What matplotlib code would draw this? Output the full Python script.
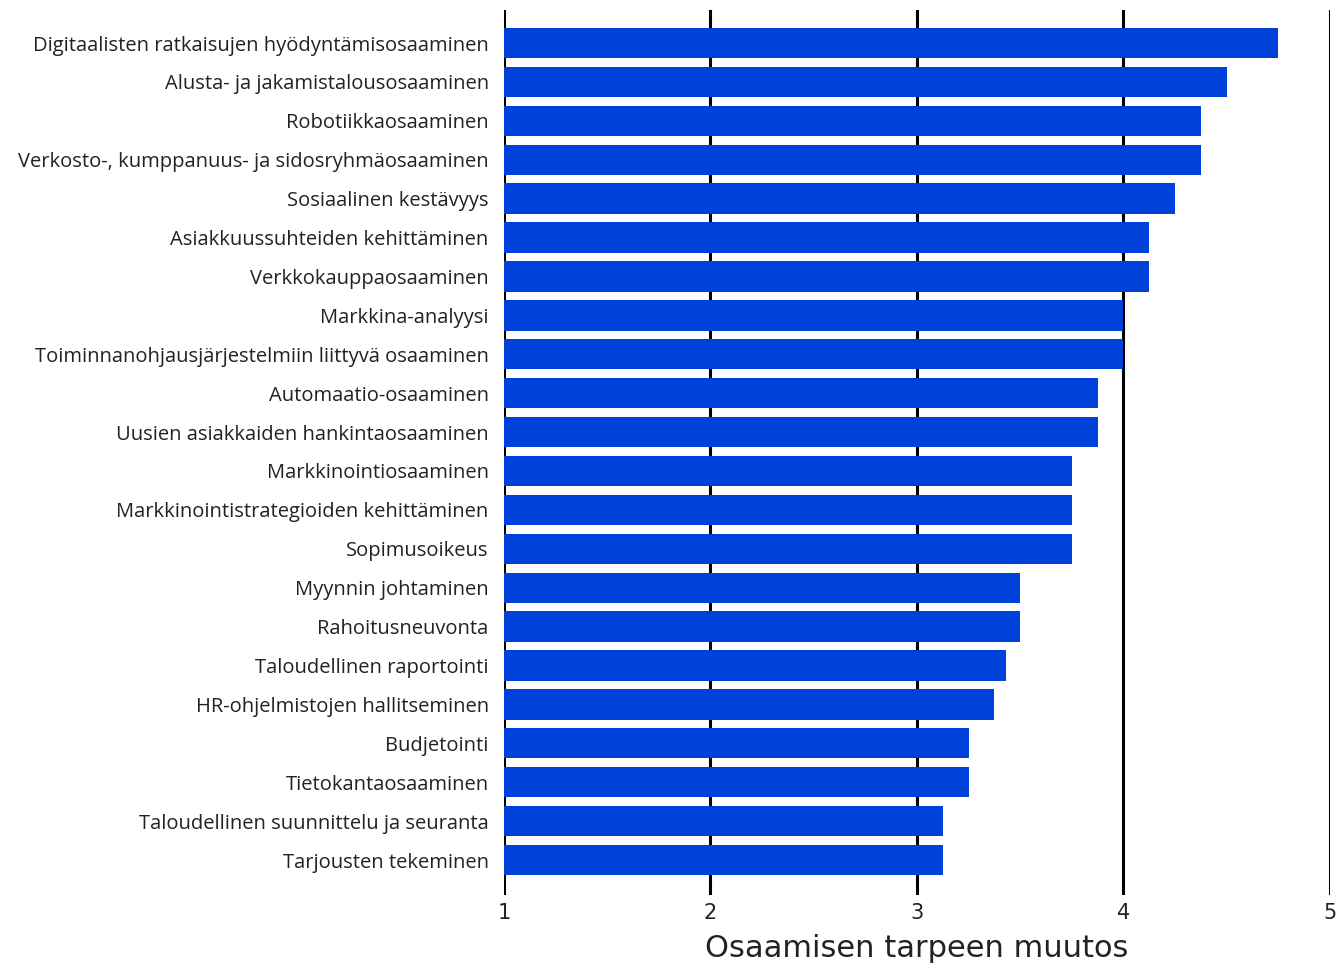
import numpy as np
import matplotlib.pyplot as plt

labels = [
    "Digitaalisten ratkaisujen hyödyntämisosaaminen",
    "Alusta- ja jakamistalousosaaminen",
    "Robotiikkaosaaminen",
    "Verkosto-, kumppanuus- ja sidosryhmäosaaminen",
    "Sosiaalinen kestävyys",
    "Asiakkuussuhteiden kehittäminen",
    "Verkkokauppaosaaminen",
    "Markkina-analyysi",
    "Toiminnanohjausjärjestelmiin liittyvä osaaminen",
    "Automaatio-osaaminen",
    "Uusien asiakkaiden hankintaosaaminen",
    "Markkinointiosaaminen",
    "Markkinointistrategioiden kehittäminen",
    "Sopimusoikeus",
    "Myynnin johtaminen",
    "Rahoitusneuvonta",
    "Taloudellinen raportointi",
    "HR-ohjelmistojen hallitseminen",
    "Budjetointi",
    "Tietokantaosaaminen",
    "Taloudellinen suunnittelu ja seuranta",
    "Tarjousten tekeminen",
]
values = [4.75, 4.5, 4.375, 4.375, 4.25, 4.125, 4.125, 4.0, 4.0, 3.875, 3.875,
          3.75, 3.75, 3.75, 3.5, 3.5, 3.43, 3.375, 3.25, 3.25, 3.125, 3.125]
xticks = [1, 2, 3, 4, 5]

fig = plt.figure(figsize=(13.36, 9.68), dpi=100)
ax = fig.add_axes([0.3772, 0.0754, 0.6183, 0.9143])

y = np.arange(len(labels))
ax.barh(y, np.array(values) - 1, left=1, height=0.78, color='#0041D9', zorder=3)
for xv in xticks:
    ax.axvline(xv, color='black', lw=2.2, zorder=1)

ax.set_xlim(1, 5)
ax.set_ylim(len(labels) - 1 + 0.9, -0.85)
ax.set_yticks(y)
ax.set_yticklabels(labels, fontsize=14.5, family=['Open Sans', 'DejaVu Sans'], color='#222222')
ax.set_xticks(xticks)
ax.set_xticklabels([str(v) for v in xticks], fontsize=15, color='#222222')
ax.tick_params(axis='y', length=0, pad=11)
ax.tick_params(axis='x', length=0, pad=6)
for s in ax.spines.values():
    s.set_visible(False)
ax.set_xlabel("Osaamisen tarpeen muutos", fontsize=22, color='#222222', labelpad=8)

fig.savefig('out.png', dpi=100)
